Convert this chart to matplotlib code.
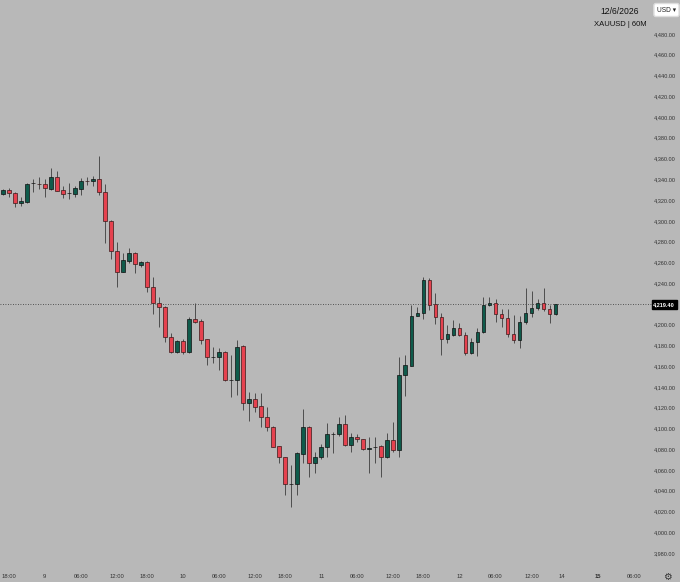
import numpy as np
import matplotlib
matplotlib.use("Agg")
import matplotlib.pyplot as plt
import matplotlib.transforms as mtransforms

# XAUUSD 60M candles
opens = [4325.8, 4329.7, 4327.1, 4316.9, 4318.4, 4336.0, 4335.5, 4335.5, 4330.6, 4342.5,
         4329.7, 4326.5, 4325.5, 4330.6, 4338.6, 4338.6, 4340.3, 4328.0, 4300.1, 4271.2,
         4251.0, 4261.6, 4269.3, 4257.4, 4260.0, 4236.5, 4221.1, 4217.2, 4187.8, 4173.3,
         4184.5, 4173.3, 4205.1, 4203.5, 4185.8, 4168.5, 4168.5, 4173.9, 4146.6, 4146.6,
         4179.4, 4124.2, 4128.0, 4121.6, 4111.3, 4101.6, 4083.0, 4072.2, 4046.1, 4046.5,
         4075.3, 4101.6, 4067.0, 4072.2, 4082.4, 4094.3, 4094.3, 4104.2, 4084.0, 4092.0,
         4089.5, 4080.0, 4082.0, 4083.0, 4072.7, 4088.8, 4079.2, 4151.4, 4160.5, 4208.6,
         4211.5, 4243.0, 4219.8, 4207.6, 4186.1, 4190.0, 4196.4, 4190.0, 4172.3, 4183.5,
         4193.2, 4218.6, 4221.1, 4210.2, 4206.0, 4191.0, 4185.2, 4202.8, 4211.5, 4215.7,
         4220.5, 4214.7, 4210.2]
highs = [4330.5, 4331.3, 4328.0, 4322.6, 4336.7, 4340.0, 4341.9, 4340.0, 4350.6, 4348.3,
         4333.5, 4336.1, 4333.5, 4341.0, 4342.5, 4343.2, 4362.7, 4335.5, 4301.0, 4279.9,
         4268.7, 4273.5, 4270.0, 4261.5, 4261.0, 4246.1, 4226.9, 4218.0, 4191.6, 4185.5,
         4186.0, 4207.6, 4221.1, 4205.0, 4186.5, 4178.7, 4177.2, 4175.0, 4171.0, 4185.2,
         4180.0, 4135.4, 4134.4, 4134.4, 4120.3, 4102.0, 4083.5, 4072.5, 4064.7, 4077.5,
         4118.4, 4102.5, 4077.5, 4085.0, 4105.5, 4096.8, 4110.7, 4112.9, 4095.9, 4094.5,
         4090.0, 4092.0, 4092.0, 4084.0, 4095.3, 4106.5, 4169.1, 4170.7, 4218.9, 4217.2,
         4245.6, 4244.6, 4230.2, 4210.9, 4199.6, 4204.4, 4201.2, 4193.2, 4186.8, 4196.4,
         4226.3, 4226.3, 4224.4, 4214.7, 4214.7, 4209.2, 4208.3, 4235.0, 4232.7, 4225.1,
         4235.0, 4218.9, 4220.0]
lows = [4325.0, 4322.6, 4313.0, 4314.3, 4317.5, 4328.0, 4330.3, 4323.2, 4329.7, 4328.7,
        4321.7, 4320.7, 4322.6, 4324.9, 4334.5, 4333.8, 4324.9, 4278.3, 4262.9, 4236.5,
        4250.5, 4259.0, 4249.4, 4255.8, 4231.7, 4210.2, 4198.0, 4183.5, 4173.0, 4172.5,
        4172.0, 4172.5, 4201.3, 4181.3, 4161.1, 4162.7, 4156.3, 4146.0, 4130.5, 4132.2,
        4117.7, 4107.4, 4116.1, 4101.0, 4097.8, 4082.0, 4067.0, 4035.8, 4024.6, 4035.8,
        4066.4, 4052.9, 4056.7, 4070.2, 4072.7, 4076.6, 4093.0, 4083.0, 4077.6, 4087.2,
        4079.0, 4057.3, 4067.0, 4053.5, 4071.0, 4077.3, 4072.2, 4131.2, 4160.0, 4208.0,
        4205.1, 4214.1, 4200.6, 4170.7, 4182.6, 4189.0, 4189.0, 4170.7, 4171.7, 4169.7,
        4192.0, 4218.0, 4202.8, 4197.4, 4187.8, 4182.0, 4177.2, 4201.0, 4207.6, 4214.1,
        4213.4, 4201.3, 4209.0]
closes = [4329.7, 4326.5, 4316.9, 4319.4, 4335.5, 4336.4, 4335.2, 4331.3, 4342.5, 4329.0,
          4325.5, 4326.8, 4331.3, 4338.3, 4338.4, 4340.3, 4327.5, 4299.8, 4271.2, 4251.0,
          4262.2, 4269.3, 4258.1, 4260.6, 4236.5, 4221.1, 4216.7, 4187.8, 4173.3, 4184.5,
          4173.3, 4205.1, 4202.8, 4185.2, 4168.5, 4168.6, 4173.9, 4146.6, 4146.8, 4178.7,
          4124.2, 4128.0, 4120.9, 4111.3, 4101.6, 4082.4, 4072.2, 4046.1, 4046.6, 4076.0,
          4101.6, 4067.0, 4072.2, 4082.4, 4094.3, 4094.7, 4104.2, 4084.0, 4091.4, 4089.5,
          4080.0, 4080.8, 4082.5, 4072.7, 4088.8, 4079.2, 4151.4, 4161.1, 4208.3, 4211.5,
          4243.0, 4218.9, 4207.6, 4186.1, 4191.0, 4196.4, 4190.0, 4172.3, 4183.5, 4193.2,
          4218.9, 4221.1, 4210.2, 4206.0, 4191.0, 4185.2, 4202.8, 4211.5, 4215.7, 4220.5,
          4214.7, 4210.2, 4219.4]

last_price = 4219.40
# the 4,220 label sits under the last-price tag, so it is not shown
price_ticks = [v for v in range(3980, 4481, 20) if v != 4220]
time_tick_pos = [1, 7, 13, 19, 24, 30, 36, 42, 47, 53, 59, 65, 70, 76, 82, 88, 93, 99, 105]
time_tick_labels = ["18:00", "9", "06:00", "12:00", "18:00", "10", "06:00", "12:00", "18:00", "11",
                    "06:00", "12:00", "18:00", "12", "06:00", "12:00", "14", "15", "06:00"]

bg = "#b8b8b8"
up_col = "#0f5b4b"
down_col = "#e5424f"
wick_col = "#4d4d4d"
narrow = ["Liberation Sans Narrow", "Liberation Sans", "DejaVu Sans"]
plt.rcParams["font.family"] = ["Liberation Sans", "DejaVu Sans"]

W, H = 680, 582
fig = plt.figure(figsize=(W / 100, H / 100), dpi=100, facecolor=bg)
ax = fig.add_axes([0, 14 / H, 652 / W, 1 - 14 / H], facecolor=bg)

o = np.array(opens)
c = np.array(closes)
x = np.arange(len(o))
up = c >= o

ax.vlines(x, lows, highs, color=wick_col, lw=0.7, zorder=1)
ax.bar(x[up], (c - o)[up], bottom=o[up], width=0.62, color=up_col,
       edgecolor="#101010", linewidth=0.5, zorder=2)
ax.bar(x[~up], (c - o)[~up], bottom=o[~up], width=0.62, color=down_col,
       edgecolor="#3a1a1a", linewidth=0.5, zorder=2)

ax.axhline(last_price, color="#333333", lw=0.6, ls=(0, (1, 2)), zorder=0)

ax.set_xlim(-0.449, 108.04)
ax.set_ylim(3965.5, 4512.7)
for s in ax.spines.values():
    s.set_visible(False)

# price scale: right-aligned labels ending ~4 px from the figure edge
ax.yaxis.tick_right()
ax.set_yticks(price_ticks)
ax.set_yticklabels([f"{v:,.2f}" for v in price_ticks], family=narrow, ha="right")
ax.tick_params(axis="y", length=0, pad=17.0, labelsize=4, labelcolor="#333333")

ax.set_xticks(time_tick_pos)
ax.set_xticklabels(time_tick_labels, family=narrow)
ax.tick_params(axis="x", length=0, pad=4, labelsize=4.2, labelcolor="#333333")
for lbl in ax.get_xticklabels():
    if lbl.get_text() == "15":
        lbl.set_fontweight("bold")

# last price tag
trans = mtransforms.blended_transform_factory(fig.transFigure, ax.transData)
ax.text(675 / W, last_price, f"{last_price:,.2f}", transform=trans, ha="right", va="center",
        fontsize=4, color="white", fontweight="bold", family=narrow, clip_on=False,
        bbox=dict(boxstyle="square,pad=0.3", facecolor="black", edgecolor="black"))

# header
fig.text(620 / W, 1 - 12 / H, "12/6/2026", ha="center", va="center", fontsize=6.2, color="#111111")
fig.text(620 / W, 1 - 25 / H, "XAUUSD | 60M", ha="center", va="center", fontsize=5.5, color="#111111")
fig.text(666.5 / W, 1 - 10 / H, "USD \u25be", ha="center", va="center", fontsize=4.8, color="#222222",
         family=["Liberation Sans", "DejaVu Sans"],
         bbox=dict(boxstyle="round,pad=0.45,rounding_size=0.3", facecolor="white", edgecolor="#dddddd"))

# settings icon bottom right
fig.text(667 / W, 1 - 577 / H, "\u2699", ha="center", va="center", fontsize=7, color="#333333",
         family="DejaVu Sans")

fig.savefig("out.png", dpi=100, facecolor=bg)
